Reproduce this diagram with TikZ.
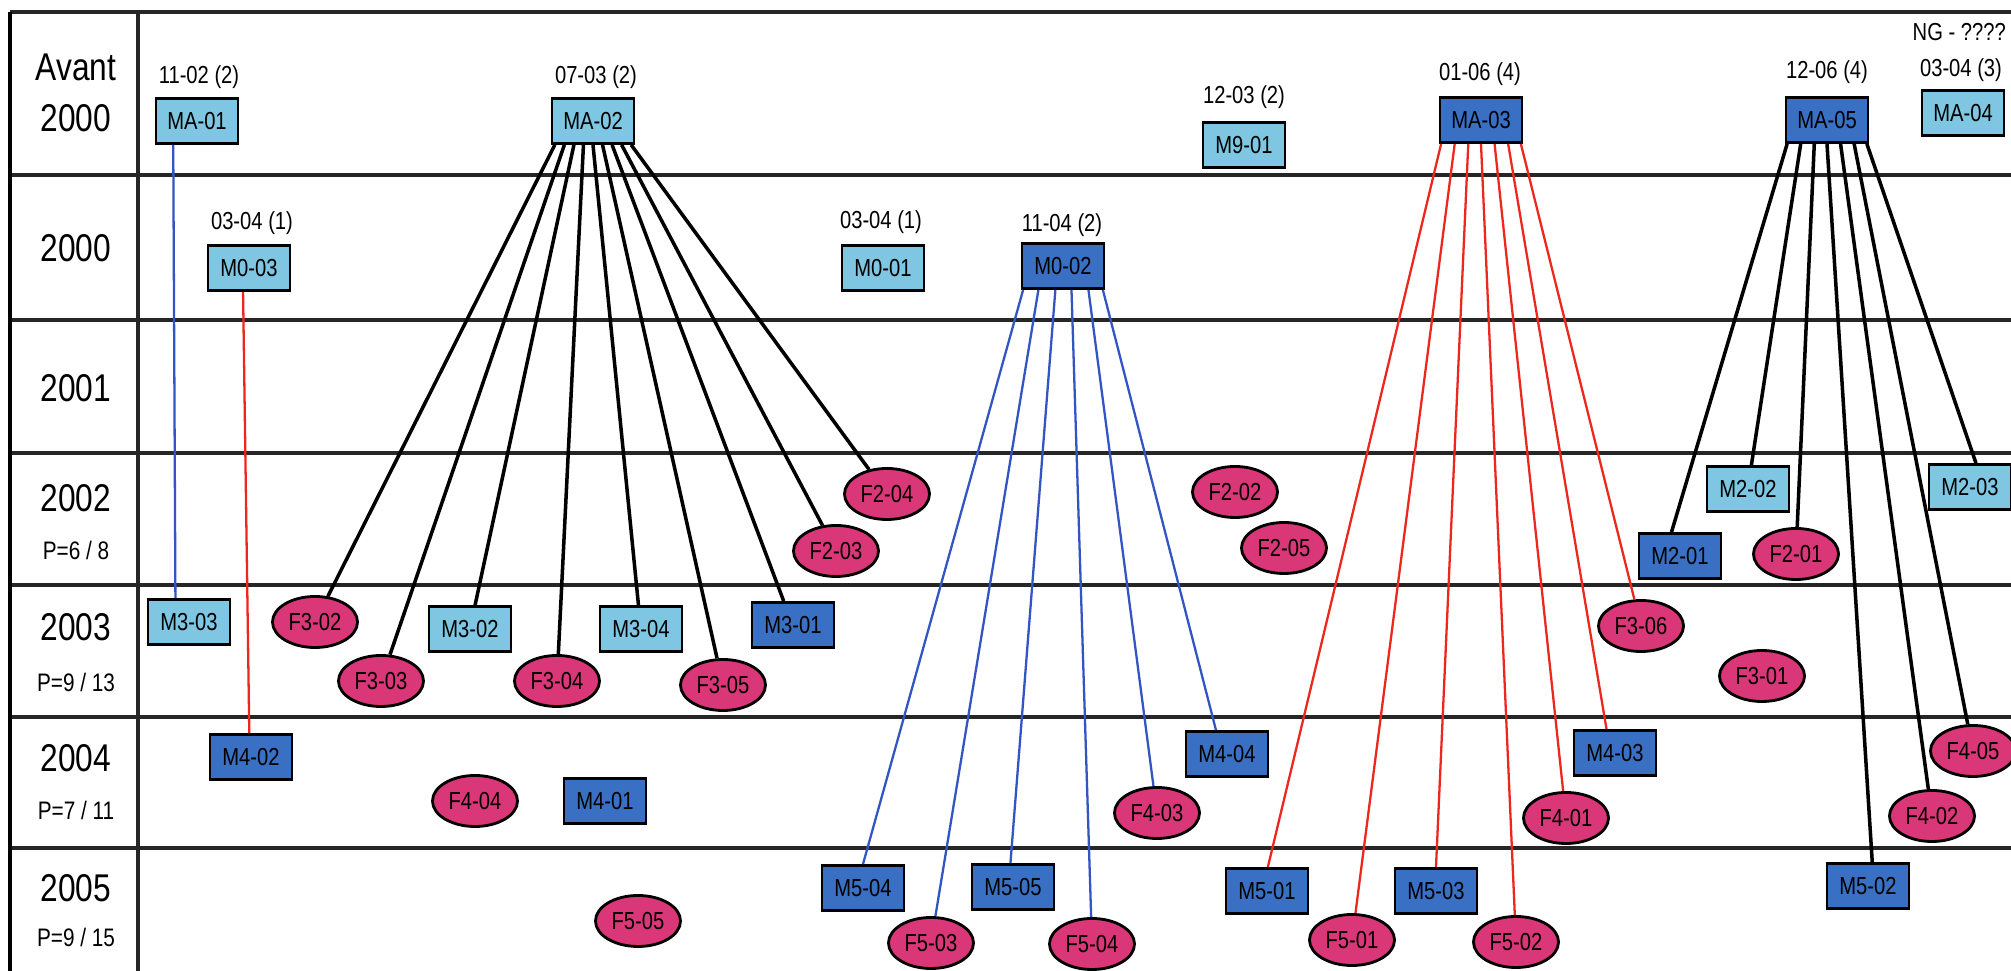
\documentclass[tikz,border=0pt]{standalone}
\usepackage{fontspec}
\setmainfont{Liberation Sans}[FakeStretch=0.82]
\usetikzlibrary{shapes.geometric,calc}
\definecolor{lblue}{RGB}{126,198,226}
\definecolor{dblue}{RGB}{58,112,196}
\definecolor{fpink}{RGB}{218,55,120}
\definecolor{lnblue}{RGB}{50,85,195}
\definecolor{lnred}{RGB}{236,40,30}
\newcommand\cbx[5]{\draw[#1] ($(#2.south west)!#3!(#2.south east)$) -- ($(#4.north west)!#5!(#4.north east)$);}
\newcommand\cel[4]{\draw[#1] ($(#2.south west)!#3!(#2.south east)$) -- (#4);}
\begin{document}
\begin{tikzpicture}[x=0.01cm,y=-0.01cm,
  boxL/.style={draw=black,line width=0.8pt,fill=lblue,minimum width=0.82cm,minimum height=0.45cm,inner sep=0pt,font=\fontsize{7}{8}\selectfont},
  boxD/.style={boxL,fill=dblue},
  fell/.style={ellipse,draw=black,line width=0.8pt,fill=fpink,minimum width=0.85cm,minimum height=0.51cm,inner sep=0pt,font=\fontsize{7}{8}\selectfont},
  dlab/.style={inner sep=0pt,font=\fontsize{7}{8}\selectfont},
  ylab/.style={inner sep=0pt,font=\fontsize{11}{12}\selectfont},
  plab/.style={inner sep=0pt,font=\fontsize{7.2}{8}\selectfont},
  grid/.style={line width=1pt,black!85},
  cblack/.style={line width=1pt,black},
  cblue/.style={line width=0.65pt,lnblue},
  cred/.style={line width=0.65pt,lnred}]
\useasboundingbox (0,0) rectangle (2011,971);
\fill[white] (0,0) rectangle (2011,971);
% grid
\foreach \yy in {12,175,320,453,585,717,848} \draw[grid] (10,\yy) -- (2011,\yy);
\draw[line width=1.2pt] (10,12) -- (10,971);
\draw[grid] (138,12) -- (138,971);
% left column
\node[ylab] (yA) at (76,67) {Avant};
\node[ylab] (y0a) at (76,118) {2000};
\node[ylab] (y0b) at (76,248) {2000};
\node[ylab] (y1) at (76,388) {2001};
\node[ylab] (y2) at (76,498) {2002};
\node[plab] (p2) at (76,550) {P=6 / 8};
\node[ylab] (y3) at (76,627) {2003};
\node[plab] (p3) at (76,682) {P=9 / 13};
\node[ylab] (y4) at (76,758) {2004};
\node[plab] (p4) at (76,810) {P=7 / 11};
\node[ylab] (y5) at (76,888) {2005};
\node[plab] (p5) at (76,937) {P=9 / 15};
% date labels
\node[dlab] (d1) at (199,77) {11-02 (2)};
\node[dlab] (d2) at (596,77) {07-03 (2)};
\node[dlab] (d3) at (252,223) {03-04 (1)};
\node[dlab] (d4) at (881,222) {03-04 (1)};
\node[dlab] (d5) at (1062,225) {11-04 (2)};
\node[dlab] (d6) at (1244,97) {12-03 (2)};
\node[dlab] (d7) at (1480,74) {01-06 (4)};
\node[dlab] (d8) at (1827,72) {12-06 (4)};
\node[dlab,anchor=west] (d9) at (1912,32) {NG - ????};
\node[dlab] (d10) at (1961,70) {03-04 (3)};
% light blue boxes
\node[boxL] (MA01) at (197,121) {MA-01};
\node[boxL] (MA02) at (593,121) {MA-02};
\node[boxL] (M901) at (1244,145) {M9-01};
\node[boxL] (M003) at (249,268) {M0-03};
\node[boxL] (M001) at (883,268) {M0-01};
\node[boxL] (M303) at (189,622) {M3-03};
\node[boxL] (M302) at (470,629) {M3-02};
\node[boxL] (M304) at (641,629) {M3-04};
\node[boxL] (M202) at (1748,489) {M2-02};
\node[boxL] (M203) at (1970,487) {M2-03};
\node[boxL] (MA04) at (1963,113) {MA-04};
% dark blue boxes
\node[boxD] (MA03) at (1481,120) {MA-03};
\node[boxD] (MA05) at (1827,120) {MA-05};
\node[boxD] (M002) at (1063,266) {M0-02};
\node[boxD] (M301) at (793,625) {M3-01};
\node[boxD] (M201) at (1680,556) {M2-01};
\node[boxD] (M402) at (251,757) {M4-02};
\node[boxD] (M401) at (605,801) {M4-01};
\node[boxD] (M404) at (1227,754) {M4-04};
\node[boxD] (M403) at (1615,753) {M4-03};
\node[boxD] (M504) at (863,888) {M5-04};
\node[boxD] (M505) at (1013,887) {M5-05};
\node[boxD] (M501) at (1267,891) {M5-01};
\node[boxD] (M503) at (1436,891) {M5-03};
\node[boxD] (M502) at (1868,886) {M5-02};
% ellipses
\node[fell] (F302) at (315,622) {F3-02};
\node[fell] (F303) at (381,681) {F3-03};
\node[fell] (F304) at (557,681) {F3-04};
\node[fell] (F305) at (723,685) {F3-05};
\node[fell] (F204) at (887,494) {F2-04};
\node[fell] (F203) at (836,551) {F2-03};
\node[fell] (F202) at (1235,492) {F2-02};
\node[fell] (F205) at (1284,548) {F2-05};
\node[fell] (F201) at (1796,554) {F2-01};
\node[fell] (F306) at (1641,626) {F3-06};
\node[fell] (F301) at (1762,676) {F3-01};
\node[fell] (F404) at (475,801) {F4-04};
\node[fell] (F403) at (1157,813) {F4-03};
\node[fell] (F401) at (1566,818) {F4-01};
\node[fell] (F405) at (1973,751) {F4-05};
\node[fell] (F402) at (1932,816) {F4-02};
\node[fell] (F505) at (638,921) {F5-05};
\node[fell] (F503) at (931,943) {F5-03};
\node[fell] (F504) at (1092,944) {F5-04};
\node[fell] (F501) at (1352,940) {F5-01};
\node[fell] (F502) at (1516,942) {F5-02};
% connectors
\cbx{cblue}{MA01}{0.22}{M303}{0.34}
\cbx{cred}{M003}{0.43}{M402}{0.48}
% MA-02
\cel{cblack}{MA02}{0.05}{F302}
\cel{cblack}{MA02}{0.1625}{F303}
\cbx{cblack}{MA02}{0.275}{M302}{0.56}
\cel{cblack}{MA02}{0.3875}{F304}
\cbx{cblack}{MA02}{0.5}{M304}{0.47}
\cel{cblack}{MA02}{0.6125}{F305}
\cbx{cblack}{MA02}{0.725}{M301}{0.39}
\cel{cblack}{MA02}{0.8375}{F203}
\cel{cblack}{MA02}{0.95}{F204}
% M0-02
\cbx{cblue}{M002}{0.03}{M504}{0.5}
\cel{cblue}{M002}{0.21}{F503}
\cbx{cblue}{M002}{0.41}{M505}{0.47}
\cel{cblue}{M002}{0.6}{F504}
\cel{cblue}{M002}{0.8}{F403}
\cbx{cblue}{M002}{0.97}{M404}{0.37}
% MA-03
\cbx{cred}{MA03}{0.03}{M501}{0.51}
\cel{cred}{MA03}{0.19}{F501}
\cbx{cred}{MA03}{0.35}{M503}{0.5}
\cel{cred}{MA03}{0.5}{F502}
\cel{cred}{MA03}{0.66}{F401}
\cbx{cred}{MA03}{0.82}{M403}{0.4}
\cel{cred}{MA03}{0.97}{F306}
% MA-05
\cbx{cblack}{MA05}{0.03}{M201}{0.4}
\cbx{cblack}{MA05}{0.19}{M202}{0.54}
\cel{cblack}{MA05}{0.35}{F201}
\cbx{cblack}{MA05}{0.5}{M502}{0.55}
\cel{cblack}{MA05}{0.66}{F402}
\cel{cblack}{MA05}{0.82}{F405}
\cbx{cblack}{MA05}{0.97}{M203}{0.57}
\end{tikzpicture}
\end{document}
